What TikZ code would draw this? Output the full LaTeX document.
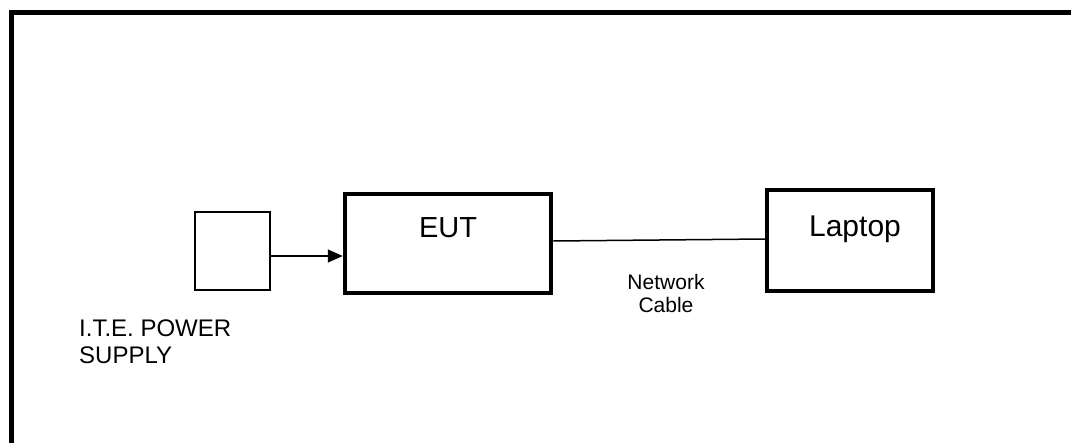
\documentclass[tikz,border=0pt]{standalone}
\usepackage{fontspec}
\setmainfont{Liberation Sans}
\usetikzlibrary{arrows.meta}
\begin{document}
\begin{tikzpicture}[x=1pt,y=-1pt,
  thickbox/.style={draw,line width=4.5pt,rectangle,inner sep=0pt},
  thinbox/.style={draw,line width=1.4pt,rectangle,inner sep=0pt},
  lbl/.style={anchor=base,inner sep=0pt,align=center},
  wire/.style={line width=1.5pt}]
\useasboundingbox (0,0) rectangle (1071,442);
\clip (0,0) rectangle (1071,442);
\draw[line width=5pt] (11,12) rectangle (1120,480);
\node[thinbox,minimum width=75pt,minimum height=78pt] (psu) at (232.5,251) {};
\node[thickbox,minimum width=206pt,minimum height=99pt] (eut) at (448,243.5) {};
\node[thickbox,minimum width=166pt,minimum height=101pt] (lap) at (850,240.5) {};
\node[lbl] (eutt) at (448,237) {\fontsize{29}{32}\selectfont EUT};
\node[lbl] (lapt) at (855,236) {\fontsize{30}{32}\selectfont Laptop};
\node[lbl] (nc1) at (666,289) {\fontsize{21}{22}\selectfont Network};
\node[lbl] (nc2) at (666,312) {\fontsize{21}{22}\selectfont Cable};
\node[lbl,anchor=base west] (ite1) at (79,336) {\fontsize{24}{27}\selectfont I.T.E. POWER};
\node[lbl,anchor=base west] (ite2) at (79,363) {\fontsize{24}{27}\selectfont SUPPLY};
\coordinate (ay) at (0,256);
\draw[wire,-{Triangle[length=15pt,width=13pt]}] (psu.east |- ay) -- (eut.west |- ay);
\draw[wire] ([yshift=2.5pt]eut.east) -- ([yshift=1.5pt]lap.west);
\end{tikzpicture}
\end{document}
